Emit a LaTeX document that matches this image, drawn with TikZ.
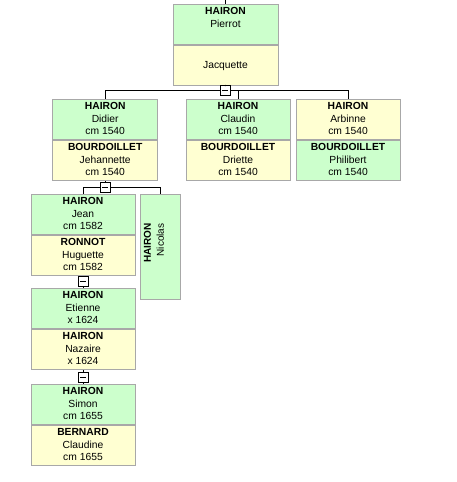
\documentclass[tikz,border=0pt]{standalone}
\usepackage{fontspec}
\setmainfont{Liberation Sans}
\usetikzlibrary{positioning}

\definecolor{vertfiche}{HTML}{CCFFCC}
\definecolor{jaunefiche}{HTML}{FFFFD2}
\definecolor{bordfiche}{HTML}{A8A8A8}

% Contenu d'une fiche : nom, prenom, date
\newcommand{\fiche}[3]{\textbf{#1}\strut\\#2\strut\\#3\strut}

\begin{document}
\begin{tikzpicture}[x=1pt, y=-1pt, line width=1pt,
    fichevert/.style={draw=bordfiche, fill=vertfiche, minimum width=104pt, minimum height=40pt,
        inner sep=0pt, align=center, font=\fontsize{10.3}{12.5}\selectfont},
    fichejaune/.style={fichevert, fill=jaunefiche},
    moins/.style={draw=black, fill=white, minimum size=10pt, inner sep=0pt,
        path picture={\draw ([xshift=-3pt]path picture bounding box.center) -- ([xshift=3pt]path picture bounding box.center);}},
    lien/.style={draw=black}]
            \useasboundingbox (0,0) rectangle (456,482);

            % Couple de depart
            \coordinate (haut) at (225.5,0);
            \node[fichevert, minimum width=105pt, anchor=north] (pierrot) at (225.5,4) {\fiche{HAIRON}{Pierrot}{}};
            \node[fichejaune, minimum width=105pt, below=0pt of pierrot] (jacquette) {\fiche{}{Jacquette}{}};
            \draw[lien] (haut) -- (pierrot.north);

            % Enfants de Pierrot
            \node[fichevert, minimum width=105pt, anchor=north] (didier) at (105.2,99.3) {\fiche{HAIRON}{Didier}{cm 1540}};
            \node[fichejaune, minimum width=105pt, below=0pt of didier] (jehannette) {\fiche{BOURDOILLET}{Jehannette}{cm 1540}};
            \node[fichevert, anchor=north] (claudin) at (238,99.3) {\fiche{HAIRON}{Claudin}{cm 1540}};
            \node[fichejaune, below=0pt of claudin] (driette) {\fiche{BOURDOILLET}{Driette}{cm 1540}};
            \node[fichejaune, anchor=north] (arbinne) at (348,99.3) {\fiche{HAIRON}{Arbinne}{cm 1540}};
            \node[fichevert, below=0pt of arbinne] (philibert) {\fiche{BOURDOILLET}{Philibert}{cm 1540}};

            \node[moins] (m1) at (225,90.5) {};
            \draw[lien] (jacquette.south) -- (m1.north);
            \draw[lien] (m1.west) -| (didier.north);
            \draw[lien] (m1.east) -| (claudin.north);
            \draw[lien] (m1.east) -| (arbinne.north);

            % Enfants de Didier
            \node[fichevert, anchor=north] (jean) at (83,194) {\fiche{HAIRON}{Jean}{cm 1582}};
            \node[fichejaune, below=0pt of jean] (huguette) {\fiche{RONNOT}{Huguette}{cm 1582}};
            \node[fichevert, minimum width=40pt, minimum height=105.3pt, anchor=north] (nicolas) at (160.7,194) {};
            \node[rotate=90, anchor=east, align=right, inner sep=0pt, font=\fontsize{10}{13}\selectfont] (nomnicolas) at (154,223) {\textbf{HAIRON}\\Nicolas};

            \node[moins] (m2) at (105.2,187) {};
            \draw[lien] (jehannette.south) -- (m2.north);
            \draw[lien] (m2.west) -| (jean.north);
            \draw[lien] (m2.east) -| (nicolas.north);

            % Etienne
            \node[fichevert, anchor=north] (etienne) at (83,288.3) {\fiche{HAIRON}{Etienne}{x 1624}};
            \node[fichejaune, below=0pt of etienne] (nazaire) {\fiche{HAIRON}{Nazaire}{x 1624}};
            \node[moins] (m3) at (83,281.5) {};
            \draw[lien] (huguette.south) -- (m3.north);
            \draw[lien] (m3.south) -- (etienne.north);

            % Simon
            \node[fichevert, anchor=north] (simon) at (83,384) {\fiche{HAIRON}{Simon}{cm 1655}};
            \node[fichejaune, below=0pt of simon] (claudine) {\fiche{BERNARD}{Claudine}{cm 1655}};
            \node[moins] (m4) at (83,377) {};
            \draw[lien] (nazaire.south) -- (m4.north);
            \draw[lien] (m4.south) -- (simon.north);
        \end{tikzpicture}
\end{document}
